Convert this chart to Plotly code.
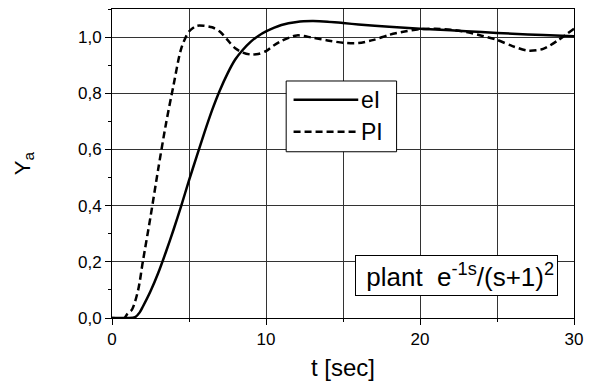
import plotly.graph_objects as go

# ---- data ----
t_eI = [0, 1, 1.5, 1.8, 2, 2.5, 3, 3.5, 4, 4.5, 5, 5.5, 6, 6.5, 7, 7.5, 8, 8.5, 9, 9.5,
        10, 11, 12, 13, 14, 15, 16, 18, 20, 22, 24, 26, 28, 30]
y_eI = [0, 0, 0.003, 0.02, 0.04, 0.095, 0.16, 0.235, 0.315, 0.40, 0.49, 0.575, 0.66,
        0.74, 0.81, 0.87, 0.92, 0.955, 0.983, 1.004, 1.02, 1.043, 1.054, 1.057, 1.055,
        1.05, 1.045, 1.037, 1.03, 1.024, 1.018, 1.012, 1.007, 1.003]

t_PI = [0, 0.8, 1.0, 1.3, 1.7, 2, 2.5, 3, 3.5, 4, 4.5, 5, 5.5, 6, 6.5, 7, 7.5, 8, 8.5,
        9, 9.5, 10, 10.5, 11, 12, 13, 14, 15, 16, 17, 18, 19, 20, 21, 22, 23, 24, 25,
        26, 27, 28, 29, 30]
y_PI = [0, 0, 0.015, 0.03, 0.1, 0.2, 0.36, 0.53, 0.69, 0.83, 0.96, 1.02, 1.04, 1.04,
        1.035, 1.02, 0.99, 0.96, 0.945, 0.938, 0.94, 0.95, 0.97, 0.986, 1.006, 0.998,
        0.988, 0.98, 0.979, 0.99, 1.008, 1.02, 1.028, 1.03, 1.026, 1.018, 1.005, 0.99,
        0.968, 0.952, 0.958, 0.99, 1.03]

series_names = ["eI", "PI"]
x_title = "t [sec]"
y_title = "Y<sub>a</sub>"
note_text = "&nbsp;plant&nbsp;&nbsp;e<sup>-1s</sup>/(s+1)<sup>2</sup>"

FONT = "Liberation Sans, Arial, sans-serif"
DASH = "7px,4px"

fig = go.Figure()
fig.add_trace(go.Scatter(x=t_eI, y=y_eI, mode="lines", name=series_names[0],
                         line=dict(color="black", width=2.5, shape="spline", smoothing=0.8),
                         showlegend=False))
fig.add_trace(go.Scatter(x=t_PI, y=y_PI, mode="lines", name=series_names[1],
                         line=dict(color="black", width=2.5, dash=DASH, shape="spline",
                                   smoothing=0.8),
                         showlegend=False))

axis_common = dict(showline=True, linecolor="black", linewidth=1, mirror=True,
                   ticks="outside", ticklen=6, tickcolor="black", tickwidth=1,
                   gridcolor="#333333", gridwidth=1, zeroline=False, automargin=False,
                   tickfont=dict(family=FONT, size=17, color="black"))

fig.update_xaxes(range=[0, 30], dtick=10, tick0=0, showgrid=True,
                 minor=dict(dtick=5, ticks="outside", ticklen=3, tickcolor="black",
                            showgrid=True, gridcolor="#333333", gridwidth=1),
                 title=dict(text=x_title, font=dict(family=FONT, size=24, color="black"),
                            standoff=12),
                 **axis_common)
fig.update_yaxes(range=[0, 1.1], dtick=0.2, tick0=0, tickformat=".1f", showgrid=True,
                 minor=dict(dtick=0.1, ticks="outside", ticklen=3, tickcolor="black",
                            showgrid=False),
                 title=dict(text=y_title, font=dict(family=FONT, size=22, color="black"),
                            standoff=41),
                 **axis_common)

# manual legend (box, line samples, labels) in paper coordinates
fig.add_shape(type="rect", xref="paper", yref="paper", x0=0.377, x1=0.616, y0=0.538, y1=0.767,
              line=dict(color="black", width=1), fillcolor="white", layer="above")
fig.add_shape(type="line", xref="paper", yref="paper", x0=0.393, x1=0.533, y0=0.706, y1=0.706,
              line=dict(color="black", width=2.5), layer="above")
fig.add_shape(type="line", xref="paper", yref="paper", x0=0.393, x1=0.533, y0=0.603, y1=0.603,
              line=dict(color="black", width=2.5, dash=DASH), layer="above")
for name, yy in zip(series_names, [0.706, 0.603]):
    fig.add_annotation(x=0.535, y=yy, xref="paper", yref="paper", text=name, showarrow=False,
                       xanchor="left", yanchor="middle",
                       font=dict(family=FONT, size=23, color="black"))

# plant note box
fig.add_annotation(x=0.965, y=0.1375, xref="paper", yref="paper", text=note_text,
                   showarrow=False, xanchor="right", yanchor="middle",
                   font=dict(family=FONT, size=26, color="black"),
                   bordercolor="black", borderwidth=1, borderpad=3, bgcolor="white")

fig.update_layout(width=589, height=381, margin=dict(l=112, r=15, t=9, b=63),
                  paper_bgcolor="white", plot_bgcolor="white", separators=",.",
                  font=dict(family=FONT, color="black"))

fig.write_html("out.html")
